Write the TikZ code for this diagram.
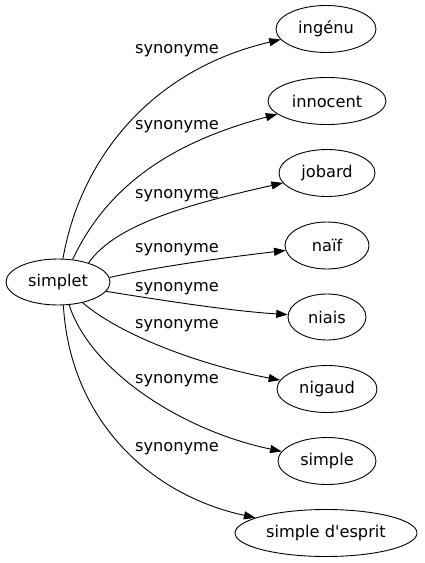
\documentclass[tikz,border=0pt]{standalone}
\usepackage{fontspec}
\setmainfont{DejaVu Sans}
\usetikzlibrary{shapes.geometric,arrows.meta}
\tikzset{
  word/.style={draw, ellipse, inner sep=0pt, line width=0.9bp, font=\fontsize{16.2bp}{19bp}\selectfont},
  lbl/.style={inner sep=0pt, font=\fontsize{16.2bp}{19bp}\selectfont},
  rel/.style={line width=0.9bp, -{Triangle[length=11.5bp,width=8bp]}}
}
\begin{document}
\begin{tikzpicture}[x=1bp,y=-1bp]
\useasboundingbox (0,0) rectangle (424,563);
\node[word, minimum width=104bp, minimum height=46bp] (simplet) at (58,282) {simplet};
\node[word, minimum width=100bp, minimum height=47bp] (ingenu) at (326,29) {ingénu};
\node[word, minimum width=118bp, minimum height=47bp] (innocent) at (327,101) {innocent};
\node[word, minimum width=96bp, minimum height=47bp] (jobard) at (327,173) {jobard};
\node[word, minimum width=84bp, minimum height=47bp] (naif) at (327,245.5) {naïf};
\node[word, minimum width=78bp, minimum height=46bp] (niais) at (327,317) {niais};
\node[word, minimum width=100bp, minimum height=47bp] (nigaud) at (327,389) {nigaud};
\node[word, minimum width=98bp, minimum height=47bp] (simple) at (327,461) {simple};
\node[word, minimum width=182bp, minimum height=47bp] (esprit) at (326,533) {simple d\textquotesingle esprit};

\node[lbl] (l1) at (177,51) {synonyme};
\node[lbl] (l2) at (177,127) {synonyme};
\node[lbl] (l3) at (177,196) {synonyme};
\node[lbl] (l4) at (177,250) {synonyme};
\node[lbl] (l5) at (177,289) {synonyme};
\node[lbl] (l6) at (177,326) {synonyme};
\node[lbl] (l7) at (177,381) {synonyme};
\node[lbl] (l8) at (177,449) {synonyme};

\draw[rel] (simplet.78) .. controls (80,160) and (150,70) .. (ingenu);
\draw[rel] (simplet.57.5) .. controls (110,180) and (180,140) .. (innocent);
\draw[rel] (simplet.32) .. controls (115,225) and (185,205) .. (jobard);
\draw[rel] (simplet.5) .. controls (160,266) and (230,257) .. (naif);
\draw[rel] (simplet.-11.8) .. controls (160,300) and (230,311) .. (niais);
\draw[rel] (simplet.-40.4) .. controls (120,335) and (200,365) .. (nigaud);
\draw[rel] (simplet.-64) .. controls (90,370) and (180,430) .. (simple);
\draw[rel] (simplet.-77.7) .. controls (70,420) and (150,495) .. (esprit);
\end{tikzpicture}
\end{document}
